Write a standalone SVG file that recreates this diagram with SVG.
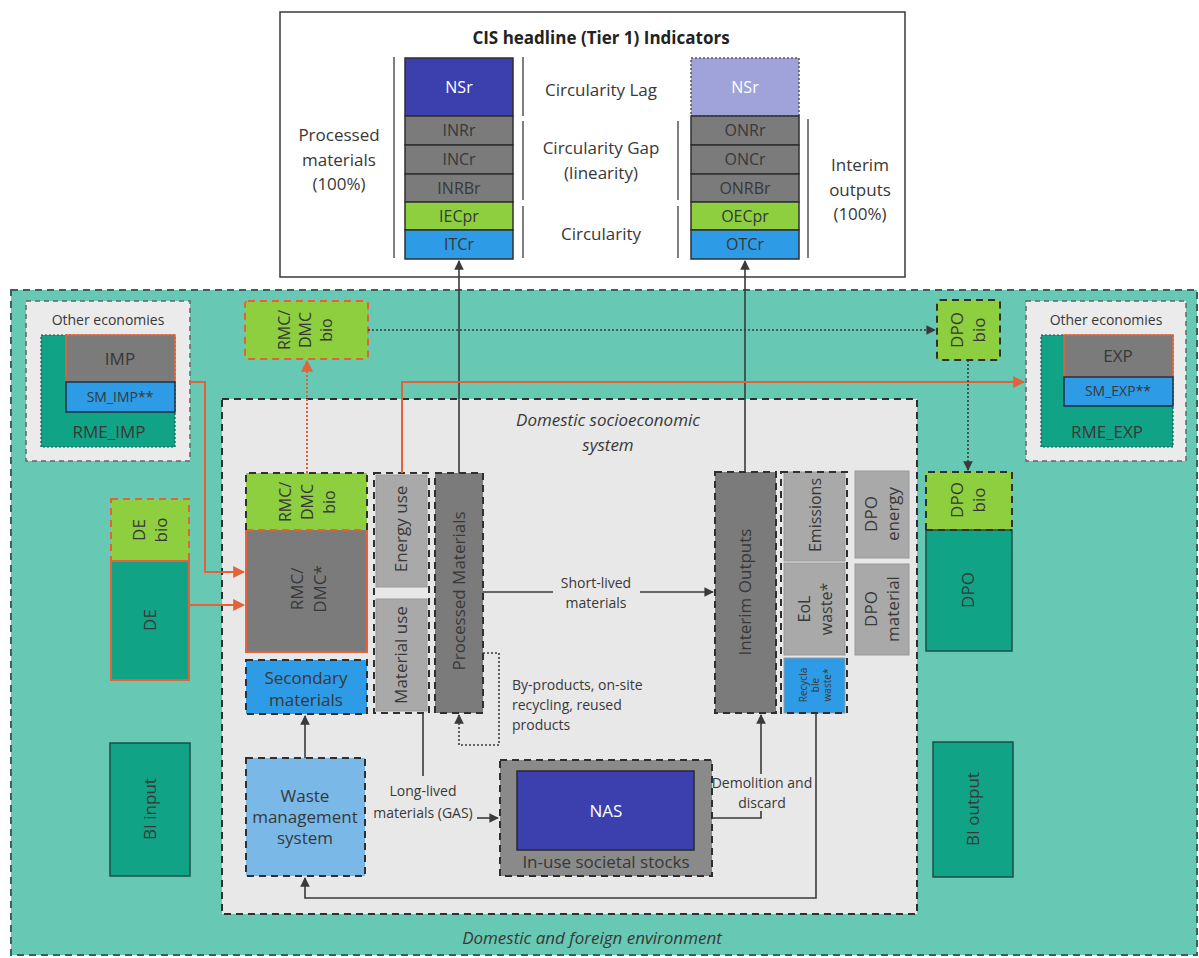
<svg xmlns="http://www.w3.org/2000/svg" width="1199" height="958" viewBox="0 0 1199 958">
<defs>
<style>
text{font-family:"Open Sans","Liberation Sans",sans-serif;fill:#383838;font-size:17px;text-anchor:middle;}
.w{fill:#ffffff;}
.b{font-weight:bold;font-size:17px;fill:#222;}
.i{font-style:italic;}
.c{font-size:14px;}
.cl{font-size:16px;}
.sm{font-size:10px;}
.cell{stroke:#2f2f2f;stroke-width:1.5;}
.dash{stroke:#2f2f2f;stroke-width:2;stroke-dasharray:7 5;}
.odash{stroke:#e2633a;stroke-width:2;stroke-dasharray:7 5;}
.osolid{stroke:#e2633a;stroke-width:2;}
.gdash{stroke:#3d5f5c;stroke-width:2;stroke-dasharray:7 5;}
.ln{fill:none;stroke:#3a3a3a;stroke-width:1.6;}
.oln{fill:none;stroke:#e2633a;stroke-width:2;}
.br{stroke:#555;stroke-width:1.5;}
</style>
<marker id="ah" viewBox="0 0 10 10" refX="9" refY="5" markerWidth="6" markerHeight="6" orient="auto"><path d="M0,0 L10,5 L0,10 z" fill="#3a3a3a"/></marker>
<marker id="ao" viewBox="0 0 10 10" refX="9" refY="5" markerWidth="6" markerHeight="6" orient="auto"><path d="M0,0 L10,5 L0,10 z" fill="#e2633a"/></marker>
</defs>
<rect width="1199" height="958" fill="#ffffff"/>

<g id="environment">
<rect x="11" y="290" width="1186" height="665" fill="#67c8b3" class="gdash"/>
<text x="592" y="944" class="i">Domestic and foreign environment</text>
</g>

<g id="top-box">
<rect x="280" y="12" width="625" height="265" fill="#ffffff" stroke="#3a3a3a" stroke-width="1.5"/>
<text x="601" y="44" class="b">CIS headline (Tier 1) Indicators</text>
<text x="339" y="141">Processed</text>
<text x="339" y="166">materials</text>
<text x="339" y="190">(100%)</text>
<line x1="394" y1="57" x2="394" y2="258" class="br"/>
<line x1="523" y1="57" x2="523" y2="116" class="br"/>
<line x1="523" y1="121" x2="523" y2="200" class="br"/>
<line x1="523" y1="206" x2="523" y2="258" class="br"/>
<text x="601" y="96">Circularity Lag</text>
<text x="601" y="154">Circularity Gap</text>
<text x="601" y="179">(linearity)</text>
<text x="601" y="240">Circularity</text>
<line x1="678" y1="121" x2="678" y2="200" class="br"/>
<line x1="678" y1="206" x2="678" y2="258" class="br"/>
<line x1="808" y1="119" x2="808" y2="258" class="br"/>
<text x="860" y="171">Interim</text>
<text x="860" y="196">outputs</text>
<text x="860" y="220">(100%)</text>
</g>

<g id="input-indicators">
<rect x="405" y="58" width="108" height="58" fill="#3c3fae" class="cell"/>
<text x="459" y="93" class="w cl">NSr</text>
<rect x="405" y="116" width="108" height="29" fill="#7b7b7b" class="cell"/>
<text x="459" y="136" class="cl">INRr</text>
<rect x="405" y="145" width="108" height="29" fill="#7b7b7b" class="cell"/>
<text x="459" y="165" class="cl">INCr</text>
<rect x="405" y="174" width="108" height="28" fill="#7b7b7b" class="cell"/>
<text x="459" y="194" class="cl">INRBr</text>
<rect x="405" y="202" width="108" height="28" fill="#8dcf3f" class="cell"/>
<text x="459" y="222" class="cl">IECpr</text>
<rect x="405" y="230" width="108" height="29" fill="#2e9be6" class="cell"/>
<text x="459" y="250" class="cl">ITCr</text>
</g>

<g id="output-indicators">
<rect x="691" y="58" width="108" height="58" fill="#9fa3da" stroke="#555" stroke-width="1.5" stroke-dasharray="2 2"/>
<text x="745" y="93" class="w cl">NSr</text>
<rect x="691" y="116" width="108" height="29" fill="#7b7b7b" class="cell"/>
<text x="745" y="136" class="cl">ONRr</text>
<rect x="691" y="145" width="108" height="29" fill="#7b7b7b" class="cell"/>
<text x="745" y="165" class="cl">ONCr</text>
<rect x="691" y="174" width="108" height="28" fill="#7b7b7b" class="cell"/>
<text x="745" y="194" class="cl">ONRBr</text>
<rect x="691" y="202" width="108" height="28" fill="#8dcf3f" class="cell"/>
<text x="745" y="222" class="cl">OECpr</text>
<rect x="691" y="230" width="108" height="29" fill="#2e9be6" class="cell"/>
<text x="745" y="250" class="cl">OTCr</text>
</g>

<g id="other-economies-imp">
<rect x="26" y="301" width="164" height="160" fill="#ebebeb" stroke="#666" stroke-width="1.5" stroke-dasharray="5 4"/>
<text x="108" y="325" class="c">Other economies</text>
<rect x="41" y="335" width="134" height="112" fill="#11a386" stroke="#1e4d4a" stroke-width="1.2" stroke-dasharray="2 2"/>
<rect x="66" y="335" width="109" height="47" fill="#7b7b7b" stroke="#e2633a" stroke-width="1.5"/>
<text x="120" y="365">IMP</text>
<rect x="66" y="382" width="109" height="30" fill="#2e9be6" stroke="#1f2f3f" stroke-width="1.5"/>
<text x="120" y="402" class="c">SM_IMP**</text>
<text x="109" y="438">RME_IMP</text>
</g>

<g id="other-economies-exp">
<rect x="1026" y="301" width="160" height="160" fill="#ebebeb" stroke="#666" stroke-width="1.5" stroke-dasharray="5 4"/>
<text x="1106" y="325" class="c">Other economies</text>
<rect x="1041" y="335" width="132" height="112" fill="#11a386" stroke="#1e4d4a" stroke-width="1.2" stroke-dasharray="2 2"/>
<rect x="1064" y="335" width="109" height="42" fill="#7b7b7b" stroke="#e2633a" stroke-width="1.5"/>
<text x="1118" y="362">EXP</text>
<rect x="1064" y="377" width="109" height="29" fill="#2e9be6" stroke="#1f2f3f" stroke-width="1.5"/>
<text x="1118" y="396" class="c">SM_EXP**</text>
<text x="1107" y="438">RME_EXP</text>
</g>

<g id="rmc-bio-outer">
<rect x="245" y="301" width="123" height="58" rx="3" fill="#8dcf3f" class="odash"/>
<text transform="translate(284,330) rotate(-90)" dy="6" class="cl">RMC/</text>
<text transform="translate(305,330) rotate(-90)" dy="6" class="cl">DMC</text>
<text transform="translate(326,330) rotate(-90)" dy="6" class="cl">bio</text>
</g>

<g id="dpo-bio-outer">
<rect x="937" y="300" width="63" height="60" rx="3" fill="#8dcf3f" class="dash"/>
<text transform="translate(957,330) rotate(-90)" dy="6">DPO</text>
<text transform="translate(979,330) rotate(-90)" dy="6">bio</text>
</g>

<g id="domestic-system">
<rect x="222" y="399" width="695" height="515" fill="#e8e8e8" class="dash"/>
<text x="608" y="426" class="i">Domestic socioeconomic</text>
<text x="608" y="451" class="i">system</text>
</g>

<g id="de">
<rect x="111" y="499" width="78" height="62" fill="#8dcf3f" class="odash"/>
<text transform="translate(139,530) rotate(-90)" dy="6">DE</text>
<text transform="translate(161,530) rotate(-90)" dy="6">bio</text>
<rect x="111" y="561" width="78" height="119" fill="#11a386" class="osolid"/>
<text transform="translate(150,620) rotate(-90)" dy="6">DE</text>
</g>

<g id="rmc-dmc">
<rect x="246" y="473" width="121" height="57" fill="#8dcf3f"/>
<text transform="translate(285,502) rotate(-90)" dy="6" class="cl">RMC/</text>
<text transform="translate(307,502) rotate(-90)" dy="6" class="cl">DMC</text>
<text transform="translate(329,502) rotate(-90)" dy="6" class="cl">bio</text>
<rect x="246" y="530" width="121" height="122" fill="#7b7b7b"/>
<path d="M246,530 V652 H367 V530" fill="none" class="osolid"/>
<line x1="246" y1="530" x2="367" y2="530" class="odash"/>
<path d="M246,530 V473 H367 V530" fill="none" class="dash"/>
<text transform="translate(297,589) rotate(-90)" dy="6">RMC/</text>
<text transform="translate(320,589) rotate(-90)" dy="6">DMC*</text>
</g>

<g id="secondary-materials">
<rect x="246" y="660" width="121" height="54" fill="#2e9be6" class="dash"/>
<text x="306" y="684" fill="#1f2f4f">Secondary</text>
<text x="306" y="706" fill="#1f2f4f">materials</text>
</g>

<g id="use">
<rect x="374" y="473" width="55" height="240" fill="#e8e8e8" class="dash"/>
<rect x="376" y="475" width="51" height="112" fill="#a9a9a9" stroke="#999" stroke-width="1"/>
<text transform="translate(401,529) rotate(-90)" dy="6">Energy use</text>
<rect x="376" y="599" width="51" height="112" fill="#a9a9a9" stroke="#999" stroke-width="1"/>
<text transform="translate(401,655) rotate(-90)" dy="6">Material use</text>
</g>

<g id="processed-materials">
<rect x="435" y="473" width="48" height="240" fill="#7b7b7b" class="dash"/>
<text transform="translate(459,591) rotate(-90)" dy="6">Processed Materials</text>
</g>

<g id="interim-outputs">
<rect x="715" y="472" width="61" height="241" fill="#7b7b7b" class="dash"/>
<text transform="translate(745,592) rotate(-90)" dy="6">Interim Outputs</text>
</g>

<g id="outputs-split">
<rect x="784" y="472" width="61" height="89" fill="#a9a9a9" stroke="#999" stroke-width="1"/>
<text transform="translate(815,515) rotate(-90)" dy="6" class="cl">Emissions</text>
<rect x="784" y="563" width="61" height="92" fill="#a9a9a9" stroke="#999" stroke-width="1"/>
<text transform="translate(804,609) rotate(-90)" dy="6" class="cl">EoL</text>
<text transform="translate(826,609) rotate(-90)" dy="6" class="cl">waste*</text>
<rect x="784" y="658" width="61" height="55" fill="#2e9be6" stroke="#999" stroke-width="1"/>
<text transform="translate(803,685) rotate(-90)" dy="4" class="sm" fill="#1f2f4f">Recycla</text>
<text transform="translate(815,685) rotate(-90)" dy="4" class="sm" fill="#1f2f4f">ble</text>
<text transform="translate(827,685) rotate(-90)" dy="4" class="sm" fill="#1f2f4f">waste*</text>
<rect x="781" y="472" width="66" height="241" fill="none" class="dash"/>
</g>

<g id="dpo-energy-material">
<rect x="855" y="471" width="54" height="87" fill="#a9a9a9" stroke="#999" stroke-width="1"/>
<text transform="translate(871,514) rotate(-90)" dy="6">DPO</text>
<text transform="translate(893,514) rotate(-90)" dy="6">energy</text>
<rect x="855" y="564" width="54" height="91" fill="#a9a9a9" stroke="#999" stroke-width="1"/>
<text transform="translate(871,609) rotate(-90)" dy="6">DPO</text>
<text transform="translate(893,609) rotate(-90)" dy="6">material</text>
</g>

<g id="dpo">
<rect x="926" y="472" width="86" height="58" fill="#8dcf3f"/>
<text transform="translate(957,500) rotate(-90)" dy="6">DPO</text>
<text transform="translate(979,500) rotate(-90)" dy="6">bio</text>
<rect x="926" y="530" width="86" height="121" fill="#11a386" stroke="#1e4d4a" stroke-width="1.5"/>
<path d="M926,530 V472 H1012 V530" fill="none" class="dash"/>
<line x1="926" y1="530" x2="1012" y2="530" class="dash"/>
<text transform="translate(968,590) rotate(-90)" dy="6">DPO</text>
</g>

<g id="bi-input">
<rect x="110" y="743" width="80" height="133" fill="#11a386" stroke="#1e4d4a" stroke-width="1.5"/>
<text transform="translate(150,809) rotate(-90)" dy="6">BI input</text>
</g>

<g id="bi-output">
<rect x="933" y="742" width="80" height="135" fill="#11a386" stroke="#1e4d4a" stroke-width="1.5"/>
<text transform="translate(973,809) rotate(-90)" dy="6">BI output</text>
</g>

<g id="waste-management">
<rect x="246" y="758" width="119" height="118" fill="#7ab8e8" class="dash"/>
<text x="305" y="802" font-size="14.5">Waste</text>
<text x="305" y="823" font-size="14.5">management</text>
<text x="305" y="844" font-size="14.5">system</text>
</g>

<g id="societal-stocks">
<rect x="500" y="760" width="212" height="116" fill="#8a8a8a" class="dash"/>
<rect x="517" y="771" width="177" height="79" fill="#3c3fae" stroke="#2a2a2a" stroke-width="1.5"/>
<text x="606" y="817" class="w">NAS</text>
<text x="606" y="868" font-size="15">In-use societal stocks</text>
</g>

<g id="connectors">
<path d="M459,473 V261" class="ln" marker-end="url(#ah)"/>
<path d="M745,472 V261" class="ln" marker-end="url(#ah)"/>
<path d="M402,473 V382 H1024" class="oln" marker-end="url(#ao)"/>
<path d="M190,382 H205 V572 H244" class="oln" marker-end="url(#ao)"/>
<path d="M189,605 H244" class="oln" marker-end="url(#ao)"/>
<path d="M307,473 V361" class="oln" stroke-dasharray="2 2" marker-end="url(#ao)"/>
<path d="M368,330 H935" class="ln" stroke-width="1.2" stroke-dasharray="2 2" marker-end="url(#ah)"/>
<path d="M968,360 V470" class="ln" stroke-width="1.2" stroke-dasharray="2 2" marker-end="url(#ah)"/>
<path d="M483,592 H553" class="ln"/>
<path d="M640,592 H713" class="ln" marker-end="url(#ah)"/>
<text x="596" y="588" class="c">Short-lived</text>
<text x="596" y="608" class="c">materials</text>
<path d="M483,653 H499 V745 H459 V715" class="ln" stroke="#888" stroke-width="1.2" stroke-dasharray="2 2" marker-end="url(#ah)"/>
<text x="512" y="690" class="c" style="text-anchor:start">By-products, on-site</text>
<text x="512" y="710" class="c" style="text-anchor:start">recycling, reused</text>
<text x="512" y="730" class="c" style="text-anchor:start">products</text>
<path d="M305,758 V716" class="ln" marker-end="url(#ah)"/>
<path d="M423,713 V776" class="ln"/>
<path d="M477,818 H498" class="ln" marker-end="url(#ah)"/>
<text x="423" y="796" class="c">Long-lived</text>
<text x="423" y="818" class="c">materials (GAS)</text>
<path d="M712,818 H761 V811" class="ln"/>
<path d="M761,774 V715" class="ln" marker-end="url(#ah)"/>
<text x="762" y="788" class="c">Demolition and</text>
<text x="762" y="808" class="c">discard</text>
<path d="M816,713 V898 H305 V878" class="ln" marker-end="url(#ah)"/>
</g>
</svg>
